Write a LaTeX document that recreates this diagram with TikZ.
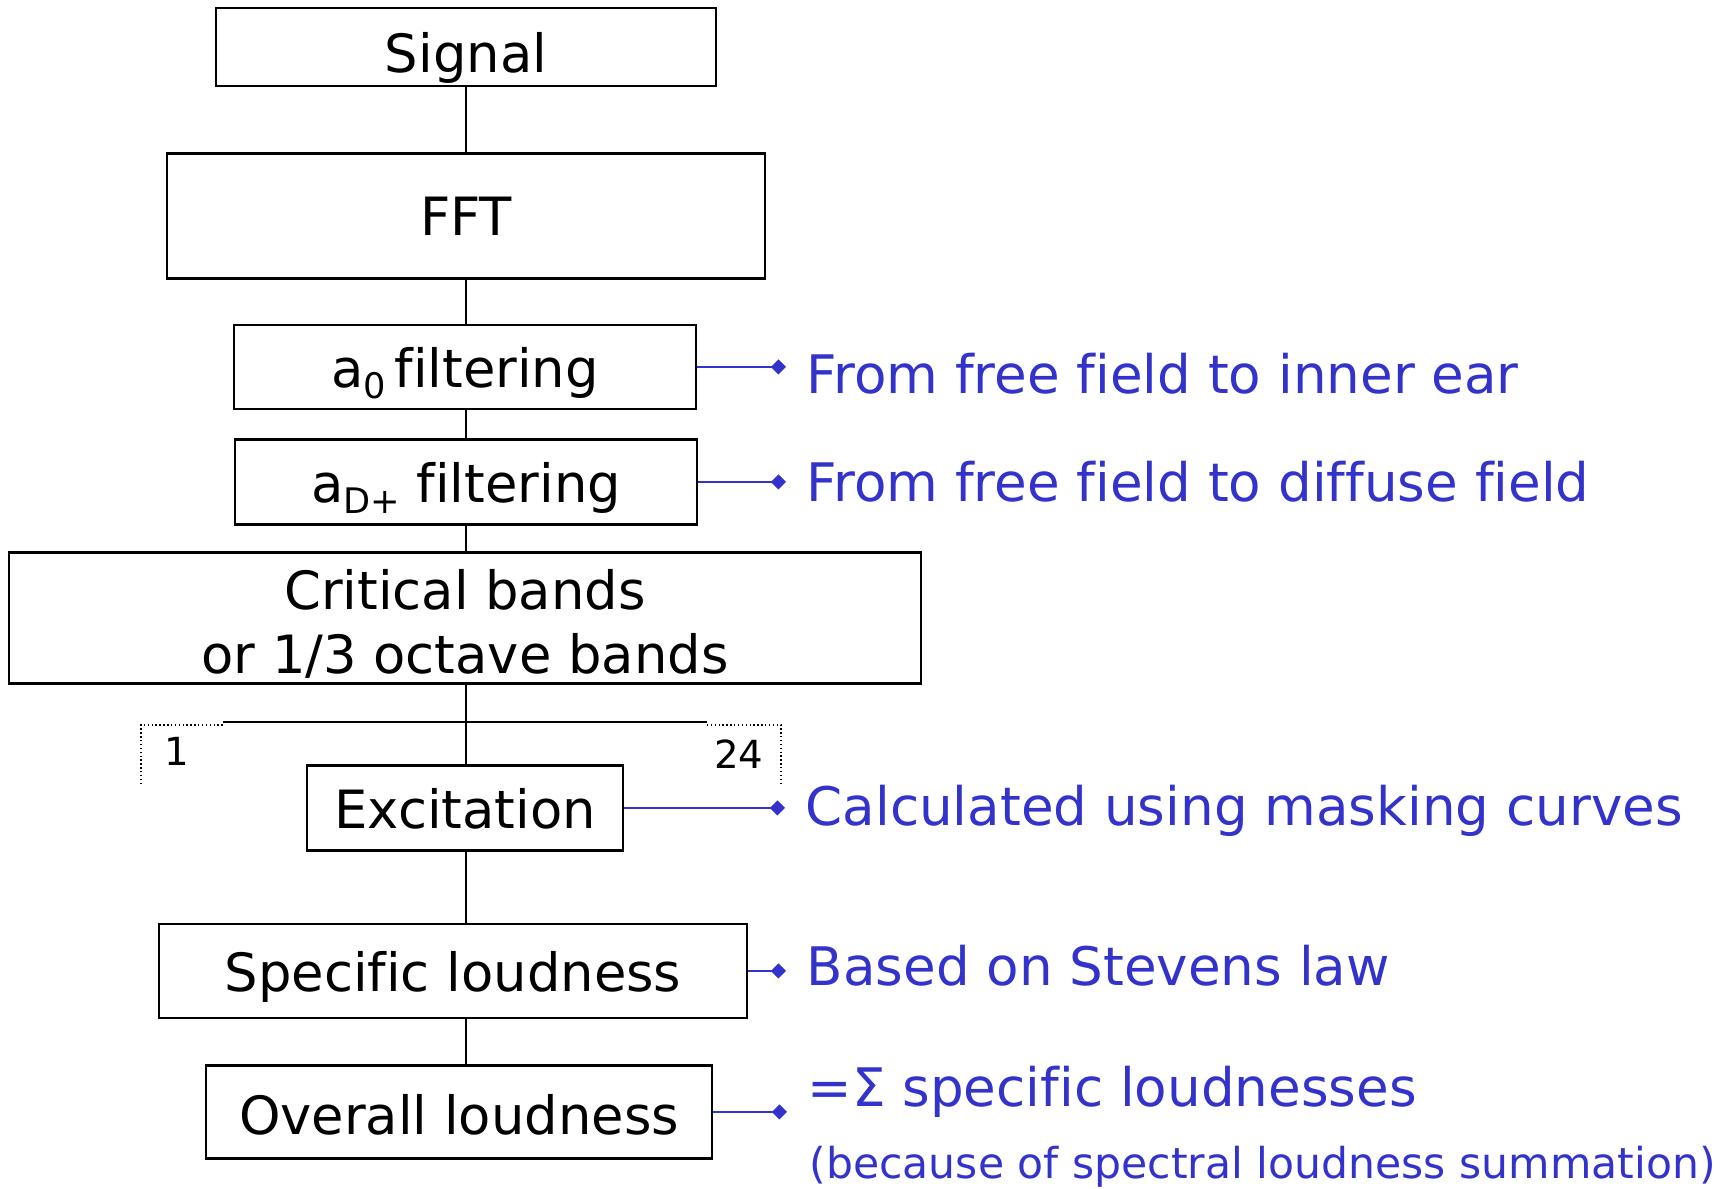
\documentclass[tikz,border=0pt]{standalone}
\usepackage{fontspec}
\setmainfont{DejaVu Sans}[Ligatures={NoCommon}]
\usetikzlibrary{arrows.meta}
\definecolor{noteblue}{RGB}{51,51,204}
\newcommand{\lowsub}[1]{\raisebox{-0.4ex}{\fontsize{10}{10}\selectfont #1}}

\begin{document}
\begin{tikzpicture}[x=0.01cm,y=-0.01cm,
    box/.style={draw,line width=0.6pt,inner sep=0pt,align=center,text depth=0pt,font=\fontsize{15}{18.4}\selectfont},
    link/.style={draw=noteblue,line width=0.4pt,shorten >=0.2cm,-{Diamond[length=4.3pt,width=4.3pt,fill=noteblue]}},
    note/.style={anchor=west,inner sep=0pt,text=noteblue,font=\fontsize{15.1}{18}\selectfont},
    wire/.style={line width=0.55pt}]
    \useasboundingbox (0,0) rectangle (1726,1189);
    % Blocs de la cadena
    \node[box,minimum width=5cm,minimum height=0.78cm] (sig) at (466,47) {\raisebox{-3pt}{Signal}};
    \node[box,minimum width=5.98cm,minimum height=1.25cm] (fft) at (466,216) {FFT};
    \node[box,minimum width=4.62cm,minimum height=0.84cm] (azero) at (465,367) {a\lowsub{0}\,filtering};
    \node[box,minimum width=4.61cm,minimum height=0.85cm] (adiff) at (466,482) {a\lowsub{D+} filtering};
    \node[box,minimum width=9.11cm,minimum height=1.31cm] (crit) at (465,618) {\raisebox{-2pt}{Critical bands}\\\raisebox{-2pt}{or 1/3 octave bands}};
    \node[box,minimum width=3.15cm,minimum height=0.85cm] (exc) at (465,808) {Excitation};
    \node[box,minimum width=5.88cm,minimum height=0.94cm] (spec) at (453,971) {Specific loudness};
    \node[box,minimum width=5.06cm,minimum height=0.93cm] (ovl) at (459,1112) {\raisebox{-1.5pt}{Overall loudness}};
    % Connexions verticals
    \draw[wire] (sig.south) -- (sig.south |- fft.north);
    \draw[wire] (fft.south) -- (fft.south |- azero.north);
    \draw[wire] (fft.south |- azero.south) -- (fft.south |- adiff.north);
    \draw[wire] (fft.south |- adiff.south) -- (fft.south |- crit.north);
    \draw[wire] (fft.south |- crit.south) -- (fft.south |- exc.north);
    \draw[wire] (fft.south |- exc.south) -- (fft.south |- spec.north);
    \draw[wire] (fft.south |- spec.south) -- (fft.south |- ovl.north);
    % Bandes 1 ... 24
    \coordinate (bl) at (223,722);
    \coordinate (br) at (707,722);
    \draw[wire] (bl) -- (br);
    \draw[line width=0.4pt,dash pattern=on 0.4pt off 0.7pt] (141,784) -- (141,725) -- (bl |- 0,725);
    \draw[line width=0.4pt,dash pattern=on 0.4pt off 0.7pt] (br |- 0,725) -- (781,725) -- (781,784);
    \node[font=\fontsize{11}{11}\selectfont,inner sep=0pt] (bfirst) at (177,751) {1};
    \node[font=\fontsize{11}{11}\selectfont,inner sep=0pt] (blast) at (739,754) {24};
    % Comentaris en blau
    \node[note] (nzero) at (806,374) {From free field to inner ear};
    \node[note] (ndiff) at (806,482) {From free field to diffuse field};
    \node[note] (nexc) at (805,811) {Calculated using masking curves};
    \node[note] (nspec) at (806,966) {Based on Stevens law};
    \node[note] (nsum) at (807,1092) {=Σ specific loudnesses};
    \node[note,font=\fontsize{12.1}{12}\selectfont] (nwhy) at (809,1167) {(because of spectral loudness summation)};
    \draw[link] (azero.east) -- (azero.east -| nzero.west);
    \draw[link] (adiff.east) -- (adiff.east -| ndiff.west);
    \draw[link] (exc.east) -- (exc.east -| nexc.west);
    \draw[link] (spec.east) -- (spec.east -| nspec.west);
    \draw[link] (ovl.east) -- (ovl.east -| nsum.west);
\end{tikzpicture}
\end{document}
